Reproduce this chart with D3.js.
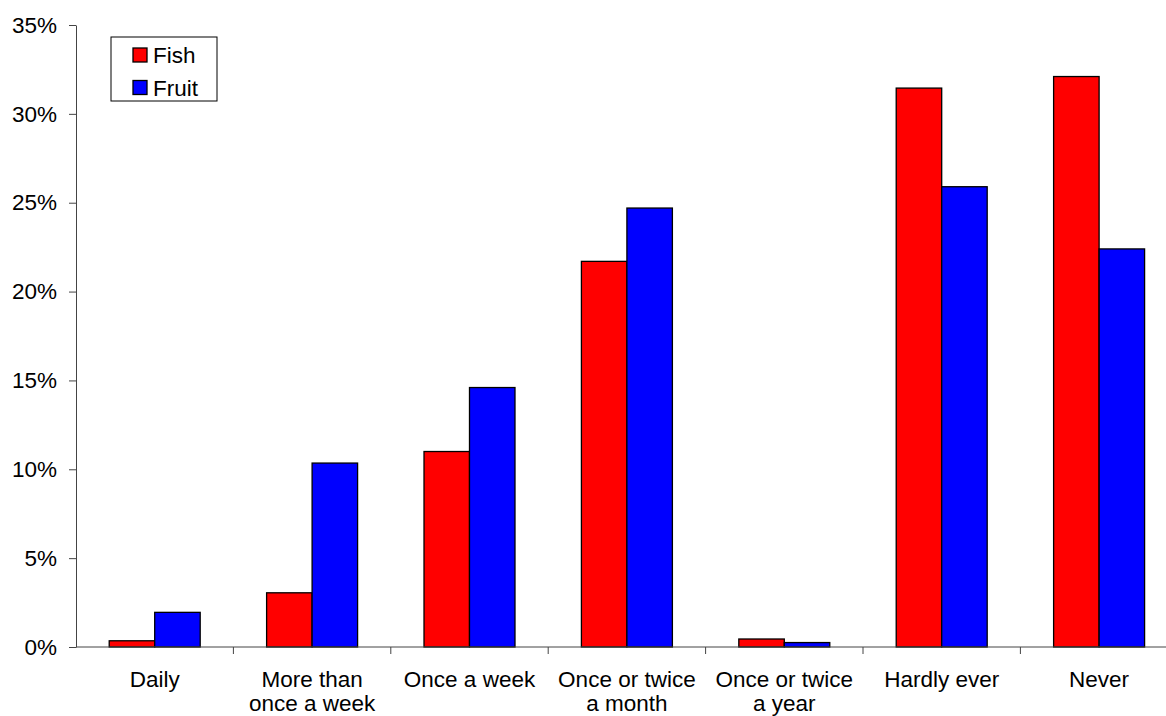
<!DOCTYPE html>
<html>
<head>
<meta charset="utf-8">
<script src="https://cdn.jsdelivr.net/npm/d3@7"></script>
<style>
  html, body { margin: 0; padding: 0; background: #fff; }
  svg { display: block; font-family: "Liberation Sans", Arial, sans-serif; }
</style>
</head>
<body>
<svg id="chart" width="1166" height="716"></svg>
<script>
// Frequency categories (multi-line labels split on "|")
const categories = [
  "Daily",
  "More than|once a week",
  "Once a week",
  "Once or twice|a month",
  "Once or twice|a year",
  "Hardly ever",
  "Never"
];
const seriesNames = ["Fish", "Fruit"];
const fishValues  = [0.35, 3.05, 11.0, 21.7, 0.45, 31.45, 32.1];
const fruitValues = [1.95, 10.35, 14.6, 24.7, 0.25, 25.9, 22.4];
const yTicks = [0, 5, 10, 15, 20, 25, 30, 35];
const colors = ["#ff0000", "#0000ff"];
const fontSize = 22.5;

const svg = d3.select("#chart");
const plotLeft = 76, plotTop = 25, plotBottom = 647;
const plotRight = plotLeft + 157.4 * categories.length;

const x = d3.scaleBand().domain(categories).range([plotLeft, plotRight]).paddingInner(0).paddingOuter(0);
const x1 = d3.scaleBand().domain(seriesNames).range([0, x.bandwidth()]).paddingInner(0).paddingOuter(0.73);
const y = d3.scaleLinear().domain([0, 35]).range([plotBottom, plotTop]);

const rows = categories.map((c, i) => ({ cat: c, vals: [fishValues[i], fruitValues[i]] }));

// Bars
const groups = svg.append("g").selectAll("g").data(rows).join("g")
  .attr("transform", d => `translate(${x(d.cat)},0)`);
groups.selectAll("rect").data(d => d.vals.map((v, j) => ({ name: seriesNames[j], v, j })))
  .join("rect")
  .attr("x", d => x1(d.name))
  .attr("y", d => y(d.v))
  .attr("width", x1.bandwidth())
  .attr("height", d => plotBottom - y(d.v))
  .attr("fill", d => colors[d.j])
  .attr("stroke", "#000")
  .attr("stroke-width", 1.3);

// Y axis
const yAxis = svg.append("g").attr("transform", `translate(${plotLeft},0)`)
  .call(d3.axisLeft(y).tickValues(yTicks).tickFormat(d => d + "%").tickSize(7).tickSizeOuter(0).tickPadding(12));
yAxis.select(".domain").attr("stroke", "#444");
yAxis.selectAll(".tick line").attr("stroke", "#444");
yAxis.selectAll(".tick text").attr("font-size", fontSize).attr("fill", "#000")
  .attr("font-family", "Liberation Sans, Arial, sans-serif");

// X axis with boundary ticks between categories
const xAxisG = svg.append("g");
xAxisG.append("line").attr("x1", plotLeft).attr("x2", plotRight).attr("y1", plotBottom).attr("y2", plotBottom).attr("stroke", "#444");
const boundaries = categories.slice(1).map(c => x(c));
xAxisG.selectAll("line.tick").data(boundaries).join("line").attr("class", "tick")
  .attr("x1", d => d).attr("x2", d => d).attr("y1", plotBottom).attr("y2", plotBottom + 7).attr("stroke", "#444");

const labels = xAxisG.selectAll("text").data(categories).join("text")
  .attr("text-anchor", "middle")
  .attr("font-size", fontSize)
  .attr("fill", "#000")
  .attr("transform", d => `translate(${x(d) + x.bandwidth() / 2},${plotBottom + 40})`);
labels.selectAll("tspan").data(d => d.split("|")).join("tspan")
  .attr("x", 0).attr("dy", (d, i) => i === 0 ? 0 : 23.5).text(d => d);

// Legend
const legend = svg.append("g").attr("transform", "translate(111,37)");
legend.append("rect").attr("width", 106).attr("height", 64).attr("fill", "#fff").attr("stroke", "#000").attr("stroke-width", 1);
const items = legend.selectAll("g.item").data(seriesNames).join("g").attr("class", "item")
  .attr("transform", (d, i) => `translate(22,${11 + i * 32.5})`);
items.append("rect").attr("width", 14).attr("height", 14)
  .attr("fill", (d, i) => colors[i]).attr("stroke", "#000").attr("stroke-width", 1.3);
items.append("text").attr("x", 20).attr("y", 15).attr("font-size", fontSize).attr("fill", "#000").text(d => d);
</script>
</body>
</html>
